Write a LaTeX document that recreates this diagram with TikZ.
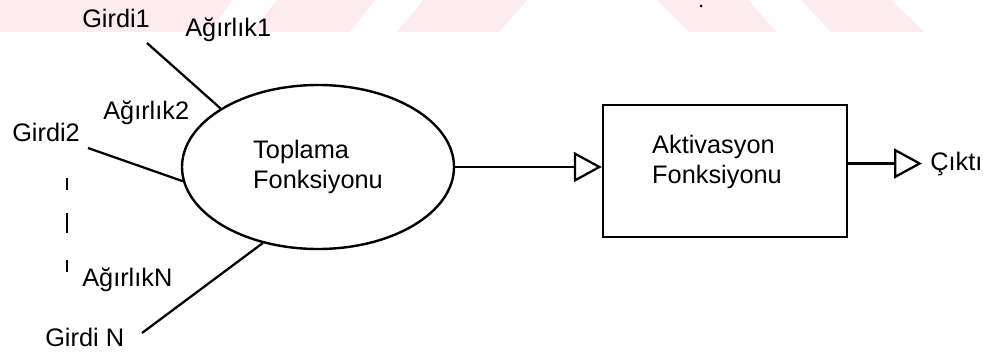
\documentclass[tikz,border=0pt]{standalone}
\usepackage{fontspec}
\setmainfont{Liberation Sans}
\usetikzlibrary{arrows.meta,shapes.geometric,positioning}
\usepackage{xcolor}
\newcommand{\pxunit}{0.75pt}
\definecolor{wmpink}{RGB}{253,236,239}
\tikzset{
    lblsty/.style={inner sep=0pt, font=\fontsize{19pt}{22.5pt}\selectfont},
    sumsty/.style={draw, ellipse, line width=1.8pt, align=left, inner sep=0pt,
                   minimum width=272*\pxunit, minimum height=164*\pxunit,
                   font=\fontsize{19pt}{22.5pt}\selectfont},
    actsty/.style={draw, rectangle, line width=1.8pt, inner sep=0pt,
                   minimum width=244*\pxunit, minimum height=132*\pxunit},
    wiresty/.style={line width=1.7pt},
    wmsty/.style={fill=wmpink},
    dashsty/.style={line width=1.9pt},
}

\begin{document}
\begin{tikzpicture}[x=\pxunit, y=-\pxunit, >={Triangle[open, length=21pt, width=22.5pt]}]
  \useasboundingbox (0,0) rectangle (994,356);

  % pale band along the top
  \fill[wmsty] (0,0) -- (233,0) -- (208,32) -- (0,32) -- cycle;
  \fill[wmsty] (277,0) -- (375,0) -- (350,32) -- (252,32) -- cycle;
  \fill[wmsty] (423,0) -- (527,0) -- (499,32) -- (397,32) -- cycle;
  \fill[wmsty] (657,0) -- (748,0) -- (776,32) -- (689,32) -- cycle;
  \fill[wmsty] (801,0) -- (891,0) -- (924,32) -- (831,32) -- cycle;
  \fill (701,6) circle (1.5);

  \node[sumsty] (sum) at (318,167) {Toplama\\Fonksiyonu};
  \node[actsty, label={[lblsty, align=left, xshift=-6pt, yshift=6.75pt]center:Aktivasyon\\Fonksiyonu}] (act) at (725,171) {};
  \node[lblsty, anchor=base west] (cikti) at (930,170) {Çıktı};

  \node[lblsty, anchor=base west] (g1)  at (82,28)  {Girdi1};
  \node[lblsty, anchor=base west] (w1)  at (185,37) {Ağırlık1};
  \node[lblsty, anchor=base west] (w2)  at (103,120) {Ağırlık2};
  \node[lblsty, anchor=base west] (g2)  at (12,142) {Girdi2};
  \node[lblsty, anchor=base west] (wn)  at (82,286) {AğırlıkN};
  \node[lblsty, anchor=base west] (gn)  at (45,346) {Girdi N};

  \coordinate (in1) at (147,43);
  \coordinate (in2) at (88,148);
  \coordinate (inn) at (142,333);

  \draw[wiresty] (in1) -- (sum.149);
  \draw[wiresty] (in2) -- (sum.186);
  \draw[wiresty] (inn) -- (sum.234);
  \foreach \ya/\yb in {178/190, 213/233, 260/272}
    \draw[dashsty] (67,\ya) -- (67,\yb);

  \draw[wiresty,->] (sum.east) -- (sum.east -| act.west);
  \draw[wiresty,->] (cikti.west -| act.east) -- ([xshift=-6pt]cikti.west);
\end{tikzpicture}
\end{document}
